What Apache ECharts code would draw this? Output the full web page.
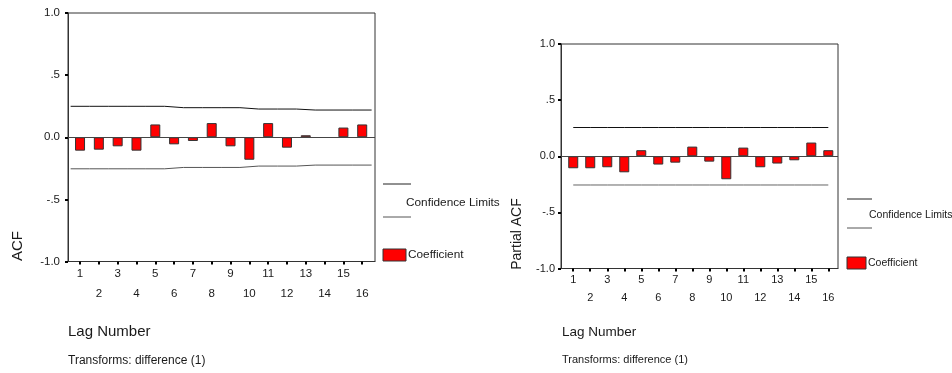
<!DOCTYPE html>
<html>
<head>
<meta charset="utf-8">
<script src="https://cdn.jsdelivr.net/npm/echarts@6/dist/echarts.min.js"></script>
<style>
html, body { margin: 0; padding: 0; background: #fff; }
#chart { width: 952px; height: 373px; }
</style>
</head>
<body>
<div id="chart"></div>
<script>
// lag numbers
const lags = [1, 2, 3, 4, 5, 6, 7, 8, 9, 10, 11, 12, 13, 14, 15, 16]
// ACF coefficients (left)
const acf = [-0.108, -0.10, -0.073, -0.108, 0.103, -0.057, -0.03, 0.114, -0.073, -0.181, 0.114, -0.084, 0.016, 0, 0.078, 0.103]
// ACF confidence limits per lag
const acfUpper = [0.249, 0.249, 0.249, 0.249, 0.249, 0.238, 0.238, 0.238, 0.238, 0.227, 0.227, 0.227, 0.219, 0.219, 0.219, 0.219]
const acfLower = [-0.254, -0.254, -0.254, -0.254, -0.254, -0.243, -0.243, -0.243, -0.243, -0.232, -0.232, -0.232, -0.224, -0.224, -0.224, -0.224]
// partial ACF coefficients (right)
const pacf = [-0.107, -0.107, -0.098, -0.143, 0.054, -0.074, -0.057, 0.086, -0.048, -0.205, 0.077, -0.098, -0.065, -0.036, 0.122, 0.054]
const pacfUpper = 0.256
const pacfLower = -0.256
// y tick labels
const yTicks = { '1': '1.0', '0.5': '.5', '0': '0.0', '-0.5': '-.5', '-1': '-1.0' }

const font = 'Liberation Sans, Arial, sans-serif'
const txt = '#1a1a1a'

function xAxisOf(gridIndex, min, max, lineHeight, size) {
  return {
    type: 'value',
    gridIndex,
    min,
    max,
    splitLine: { show: false },
    axisLine: { show: true, onZero: false, lineStyle: { color: '#333', width: 1 } },
    axisTick: { show: true, customValues: lags, length: 3, lineStyle: { color: '#000', width: 2 } },
    axisLabel: {
      customValues: lags,
      margin: 2,
      color: txt,
      fontFamily: font,
      fontSize: size,
      lineHeight,
      formatter: v => (v % 2 ? String(v) : '\n' + v)
    }
  }
}

function yAxisOf(gridIndex, size, margin) {
  return {
    type: 'value',
    gridIndex,
    min: -1,
    max: 1,
    interval: 0.5,
    splitLine: { show: false },
    axisLine: { show: true, lineStyle: { color: '#333', width: 1 } },
    axisTick: { show: true, length: 3, lineStyle: { color: '#000', width: 2 } },
    axisLabel: {
      margin,
      color: txt,
      fontFamily: font,
      fontSize: size,
      formatter: v => yTicks[String(v)]
    }
  }
}

function barsOf(idx, values) {
  return {
    type: 'bar',
    xAxisIndex: idx,
    yAxisIndex: idx,
    barWidth: 10,
    data: lags.map((l, i) => [l, values[i] || null]),
    itemStyle: { color: '#ff0000', borderColor: '#333', borderWidth: 1 },
    markLine: {
      silent: true,
      symbol: 'none',
      label: { show: false },
      lineStyle: { color: '#444', width: 1, type: 'solid' },
      data: [{ yAxis: 0 }]
    },
    z: 3
  }
}

function limitOf(idx, data, color, step) {
  return {
    type: 'line',
    xAxisIndex: idx,
    yAxisIndex: idx,
    step,
    symbol: 'none',
    silent: true,
    lineStyle: { color, width: 1 },
    data
  }
}

// left limits: step segments across each band
const stepData = arr => lags.map((l, i) => [l - 0.5, arr[i]]).concat([[16.5, arr[arr.length - 1]]])

function legendOf(x, y1, y2, lw, boxY, boxW, textX, size) {
  return [
    { type: 'line', shape: { x1: x, y1: y1, x2: x + lw, y2: y1 }, style: { stroke: '#222', lineWidth: 1 } },
    { type: 'text', x: textX, y: (y1 + y2) / 2 + 2, style: { text: 'Confidence Limits', fill: txt, font: size + 'px ' + font, verticalAlign: 'middle' } },
    { type: 'line', shape: { x1: x, y1: y2, x2: x + lw, y2: y2 }, style: { stroke: '#555', lineWidth: 1 } },
    { type: 'rect', shape: { x: x, y: boxY, width: boxW, height: 12 }, style: { fill: '#ff0000', stroke: '#333', lineWidth: 1 } },
    { type: 'text', x: x + boxW + 2, y: boxY + 6, style: { text: 'Coefficient', fill: txt, font: size + 'px ' + font, verticalAlign: 'middle' } }
  ]
}

function textOf(x, y, text, size, rot) {
  return {
    type: 'text',
    x,
    y,
    rotation: rot || 0,
    style: {
      text,
      fill: txt,
      font: size + 'px ' + font,
      align: rot ? 'center' : 'left',
      verticalAlign: 'middle'
    }
  }
}

const chart = echarts.init(document.getElementById('chart'))
chart.setOption({
  animation: false,
  grid: [
    { left: 68, top: 13, width: 307, height: 248.5, show: true, borderColor: '#333', borderWidth: 1, backgroundColor: 'transparent' },
    { left: 561, top: 44, width: 277, height: 224.5, show: true, borderColor: '#333', borderWidth: 1, backgroundColor: 'transparent' }
  ],
  xAxis: [xAxisOf(0, 0.36, 16.68, 20, 11.5), xAxisOf(1, 0.28, 16.57, 18, 11)],
  yAxis: [yAxisOf(0, 11.5, 8), yAxisOf(1, 11, 6)],
  series: [
    barsOf(0, acf),
    limitOf(0, stepData(acfUpper), '#111', 'end'),
    limitOf(0, stepData(acfLower), '#555', 'end'),
    barsOf(1, pacf),
    limitOf(1, lags.map(l => [l, pacfUpper]), '#111', false),
    limitOf(1, lags.map(l => [l, pacfLower]), '#666', false)
  ],
  graphic: [
    ...legendOf(383, 184, 217, 28, 249, 23, 406, 11.8),
    ...legendOf(847, 199, 228, 25, 257, 19, 869, 10.5),
    textOf(18, 246, 'ACF', 15, Math.PI / 2),
    textOf(517, 234, 'Partial ACF', 14, Math.PI / 2),
    textOf(68, 332, 'Lag Number', 15),
    textOf(68, 361, 'Transforms: difference (1)', 12),
    textOf(562, 332, 'Lag Number', 13.5),
    textOf(562, 360, 'Transforms: difference (1)', 11)
  ]
})
</script>
</body>
</html>
